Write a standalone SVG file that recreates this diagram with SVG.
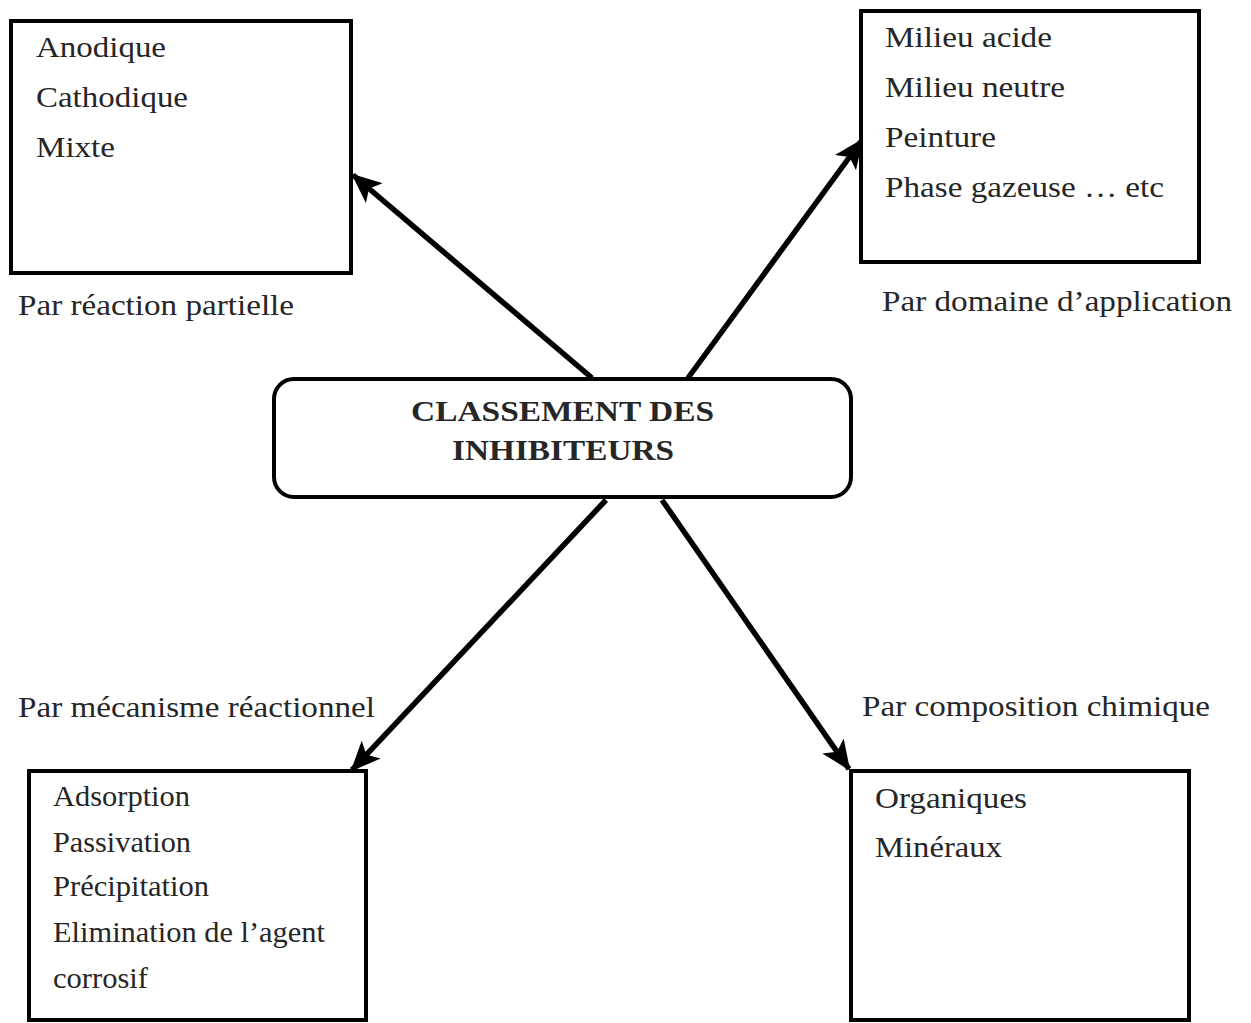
<svg xmlns="http://www.w3.org/2000/svg" width="1251" height="1023" viewBox="0 0 1251 1023">
<style>
.box{fill:#fff;stroke:#000;stroke-width:4}
text{font-family:'Liberation Serif','Times New Roman',Tinos,Times,serif;font-size:29px;fill:#262626}
.b{font-weight:bold}
.c{stroke:#000;stroke-width:5.5;fill:none;marker-end:url(#ah)}
</style>
<defs>
<marker id="ah" markerUnits="userSpaceOnUse" markerWidth="30" markerHeight="26" viewBox="0 0 30 26" refX="28" refY="13" orient="auto">
<path d="M0,0 L30,13 L0,26 L7,13 Z" fill="#000"/>
</marker>
</defs>
<rect width="1251" height="1023" fill="#fff"/>
<g id="connectors">
<line class="c" x1="592" y1="378" x2="353" y2="175"/>
<line class="c" x1="688" y1="378" x2="862" y2="140"/>
<line class="c" x1="606" y1="500" x2="352" y2="770"/>
<line class="c" x1="662" y1="500" x2="849" y2="769"/>
</g>
<g id="partielle">
<rect class="box" x="11" y="21" width="340" height="252"/>
<text x="36" y="57" textLength="130" lengthAdjust="spacingAndGlyphs">Anodique</text>
<text x="36" y="107" textLength="152" lengthAdjust="spacingAndGlyphs">Cathodique</text>
<text x="36" y="157" textLength="79" lengthAdjust="spacingAndGlyphs">Mixte</text>
<text x="18" y="315" textLength="276" lengthAdjust="spacingAndGlyphs">Par réaction partielle</text>
</g>
<g id="application">
<rect class="box" x="861" y="11" width="338" height="251"/>
<text x="885" y="47" textLength="167" lengthAdjust="spacingAndGlyphs">Milieu acide</text>
<text x="885" y="97" textLength="180" lengthAdjust="spacingAndGlyphs">Milieu neutre</text>
<text x="885" y="147" textLength="111" lengthAdjust="spacingAndGlyphs">Peinture</text>
<text x="885" y="197" textLength="279" lengthAdjust="spacingAndGlyphs">Phase gazeuse … etc</text>
<text x="882" y="311" textLength="350" lengthAdjust="spacingAndGlyphs">Par domaine d’application</text>
</g>
<g id="center">
<rect class="box" x="274" y="379" width="577" height="118" rx="20" ry="20"/>
<text class="b" x="411" y="421" textLength="303" lengthAdjust="spacingAndGlyphs">CLASSEMENT DES</text>
<text class="b" x="452" y="460" textLength="222" lengthAdjust="spacingAndGlyphs">INHIBITEURS</text>
</g>
<g id="mecanisme">
<rect class="box" x="29" y="771" width="337" height="249"/>
<text x="18" y="717" textLength="357" lengthAdjust="spacingAndGlyphs">Par mécanisme réactionnel</text>
<text x="53" y="806" textLength="137" lengthAdjust="spacingAndGlyphs">Adsorption</text>
<text x="53" y="852" textLength="138" lengthAdjust="spacingAndGlyphs">Passivation</text>
<text x="53" y="896" textLength="156" lengthAdjust="spacingAndGlyphs">Précipitation</text>
<text x="53" y="942" textLength="272" lengthAdjust="spacingAndGlyphs">Elimination de l’agent</text>
<text x="53" y="988" textLength="95" lengthAdjust="spacingAndGlyphs">corrosif</text>
</g>
<g id="composition">
<rect class="box" x="851" y="771" width="338" height="249"/>
<text x="862" y="716" textLength="348" lengthAdjust="spacingAndGlyphs">Par composition chimique</text>
<text x="875" y="808" textLength="152" lengthAdjust="spacingAndGlyphs">Organiques</text>
<text x="875" y="857" textLength="127" lengthAdjust="spacingAndGlyphs">Minéraux</text>
</g>
</svg>
